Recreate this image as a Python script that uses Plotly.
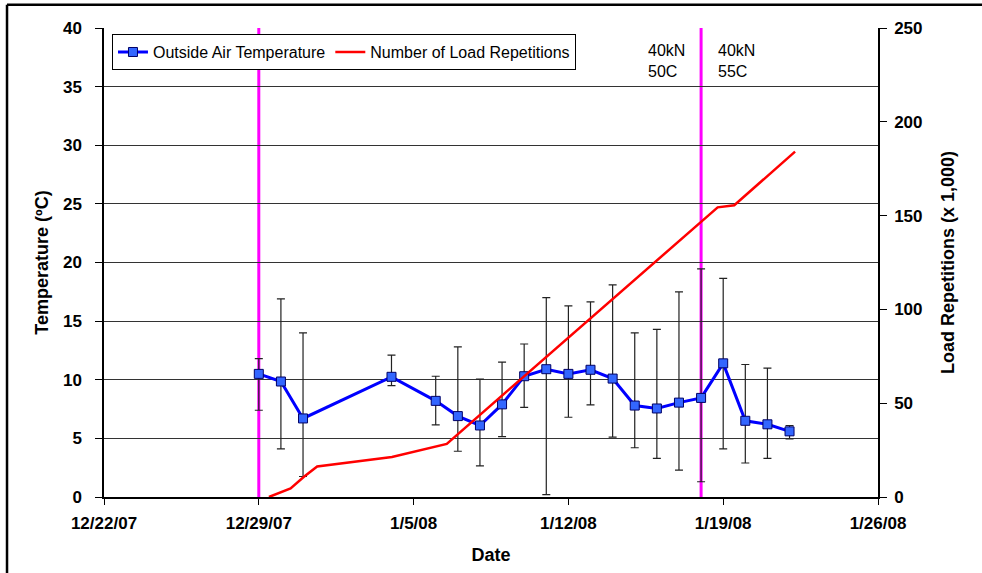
import plotly.graph_objects as go

# ---- data ----
dates = ["2007-12-29", "2007-12-30", "2007-12-31", "2008-01-04", "2008-01-06",
         "2008-01-07", "2008-01-08", "2008-01-09", "2008-01-10", "2008-01-11",
         "2008-01-12", "2008-01-13", "2008-01-14", "2008-01-15", "2008-01-16",
         "2008-01-17", "2008-01-18", "2008-01-19", "2008-01-20", "2008-01-21",
         "2008-01-22"]
temp = [10.5, 9.85, 6.7, 10.25, 8.2, 6.9, 6.1, 7.9, 10.3, 10.9, 10.5, 10.85,
        10.1, 7.8, 7.55, 8.05, 8.45, 11.4, 6.5, 6.2, 5.6]
temp_max = [11.8, 16.9, 14.0, 12.1, 10.3, 12.8, 10.05, 11.5, 13.05, 17.0, 16.3,
            16.65, 18.1, 14.0, 14.3, 17.5, 19.45, 18.65, 11.3, 11.0, 6.1]
temp_min = [7.4, 4.1, 1.75, 9.5, 6.15, 3.9, 2.65, 5.15, 7.65, 0.2, 6.8, 7.85,
            5.1, 4.2, 3.3, 2.3, 1.3, 4.1, 2.9, 3.3, 4.95]

load_dates = ["2007-12-29 11:00", "2007-12-30 10:30", "2007-12-31 01:00",
              "2007-12-31 15:20", "2008-01-04 00:30", "2008-01-06 12:00",
              "2008-01-18 18:00", "2008-01-19 12:00", "2008-01-22 06:00"]
load = [0, 4.6, 10.8, 16.3, 21.3, 28.3, 154.4, 155.5, 184.1]

phase_dates = ["2007-12-29", "2008-01-18"]
phase_labels = ["40kN<br>50C", "40kN<br>55C"]

x_range = ["2007-12-22", "2008-01-26"]

err_plus = [a - b for a, b in zip(temp_max, temp)]
err_minus = [b - a for a, b in zip(temp_min, temp)]

FONT = "Liberation Sans, Arial, sans-serif"

fig = go.Figure()
fig.add_trace(go.Scatter(
    x=dates, y=temp, name="Outside Air Temperature", mode="lines+markers",
    line=dict(color="#0000FF", width=3),
    marker=dict(symbol="square", size=9, color="#3366FF",
                line=dict(color="#000066", width=1)),
    error_y=dict(type="data", symmetric=False, array=err_plus,
                 arrayminus=err_minus, color="#222222", thickness=1.2, width=4),
    yaxis="y"))
fig.add_trace(go.Scatter(
    x=load_dates, y=load, name="Number of Load Repetitions", mode="lines",
    line=dict(color="#FF0000", width=2.5), yaxis="y2"))

shapes = []
for d in phase_dates:
    shapes.append(dict(type="line", xref="x", yref="paper", x0=d, x1=d,
                       y0=0, y1=1, line=dict(color="#FF00FF", width=3),
                       layer="between"))
# outer frame (top and left edges)
shapes.append(dict(type="line", xref="paper", yref="paper", x0=-0.1253,
                   x1=1.2, y0=1.0497, y1=1.0497,
                   line=dict(color="black", width=2.5)))
shapes.append(dict(type="line", xref="paper", yref="paper", x0=-0.1253,
                   x1=-0.1253, y0=-0.2, y1=1.0497,
                   line=dict(color="black", width=2.5)))

annotations = []
for xp, txt in zip([0.6999, 0.7903], phase_labels):
    annotations.append(dict(xref="paper", yref="paper", x=xp, y=0.975,
                            xanchor="left", yanchor="top", text=txt,
                            showarrow=False, align="left",
                            font=dict(family=FONT, size=16, color="black")))

fig.update_layout(
    width=982, height=573,
    margin=dict(l=104, r=104, t=28, b=76),
    paper_bgcolor="white", plot_bgcolor="white",
    font=dict(family=FONT, color="black"),
    shapes=shapes, annotations=annotations,
    showlegend=True,
    legend=dict(orientation="h", x=0.0103, y=0.987, xanchor="left",
                yanchor="top", bgcolor="white", bordercolor="black",
                borderwidth=1, font=dict(family=FONT, size=16),
                itemwidth=30),
    xaxis=dict(type="date", range=x_range, tick0="2007-12-22",
               dtick=7 * 24 * 3600 * 1000, tickformat="%-m/%-d/%y",
               showgrid=False, showline=True, linecolor="black", linewidth=1.5,
               ticks="outside", ticklen=6, tickcolor="black",
               ticklabelstandoff=4, automargin=False,
               tickfont=dict(family=FONT, size=17, color="black", weight="bold"),
               title=dict(text="<b>Date</b>", standoff=16,
                          font=dict(family=FONT, size=18)),
               mirror=False, zeroline=False),
    yaxis=dict(range=[0, 40], dtick=5, showgrid=True, gridcolor="#333333",
               gridwidth=1, showline=True, linecolor="black", linewidth=1.5,
               ticks="outside", ticklen=7, tickcolor="black",
               ticklabelstandoff=10, automargin=False,
               tickfont=dict(family=FONT, size=17, color="black", weight="bold"),
               title=dict(text="<b>Temperature (ºC)</b>", standoff=10,
                          font=dict(family=FONT, size=18)),
               zeroline=False),
    yaxis2=dict(range=[0, 250], dtick=50, overlaying="y", side="right",
                showgrid=False, showline=True, linecolor="black", linewidth=1.5,
                ticks="outside", ticklen=7, tickcolor="black",
                ticklabelstandoff=4, automargin=False,
                tickfont=dict(family=FONT, size=17, color="black", weight="bold"),
                title=dict(text="<b>Load Repetitions (x 1,000)</b>", standoff=20,
                           font=dict(family=FONT, size=18)),
                zeroline=False),
)

fig.write_html(
    "out.html",
    config={"displayModeBar": False},
    post_script=("document.body.style.margin='0';"
                 "document.body.style.overflow='hidden';"
                 "document.documentElement.style.overflow='hidden';"),
)
